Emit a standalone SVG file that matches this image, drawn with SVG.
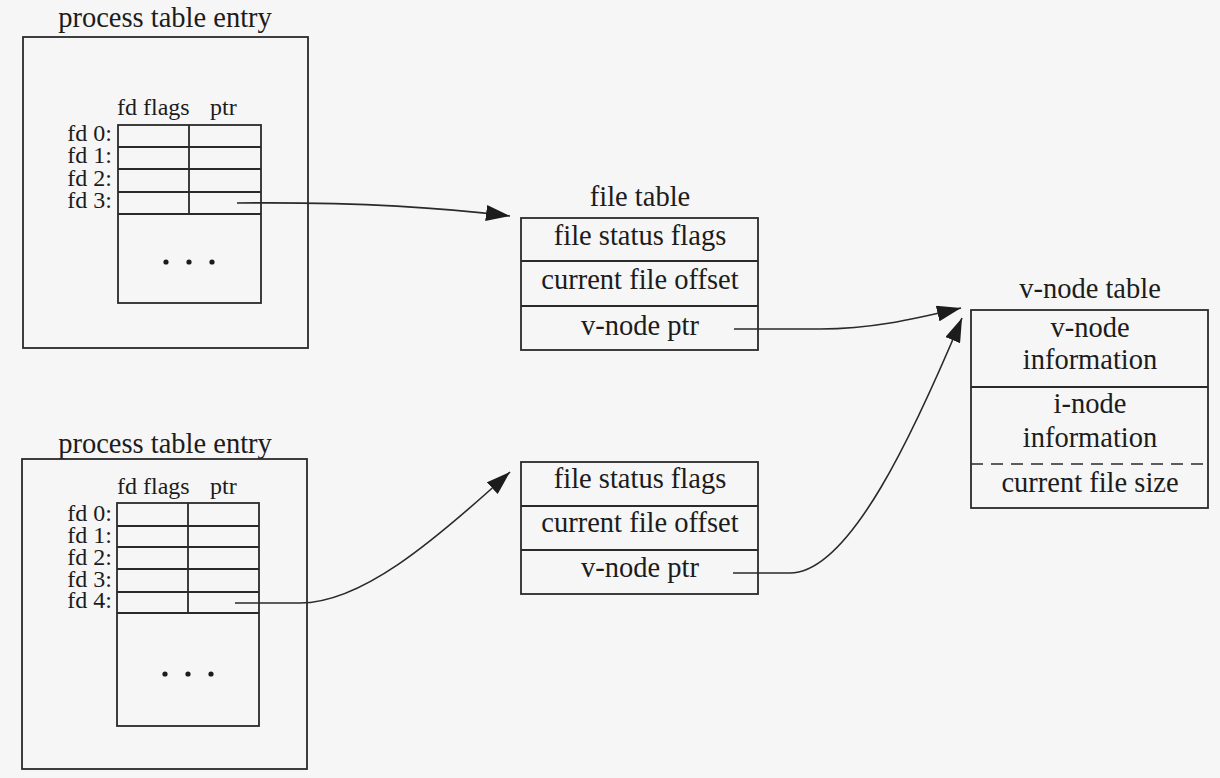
<svg xmlns="http://www.w3.org/2000/svg" width="1220" height="778" viewBox="0 0 1220 778">
<defs>
<style>
.bg{fill:#f6f6f6}
.box{fill:none;stroke:#2a2a2a;stroke-width:1.8}
.ln{stroke:#2a2a2a;stroke-width:1.8;fill:none}
.dash{stroke:#2a2a2a;stroke-width:1.6;stroke-dasharray:12 8;fill:none}
.t{font-family:"Liberation Serif","Times New Roman",serif;font-size:28.5px;fill:#1c1c1c}
.s{font-family:"Liberation Serif","Times New Roman",serif;font-size:24px;fill:#1c1c1c}
.m{text-anchor:middle}
.e{text-anchor:end}
.conn{fill:none;stroke:#2a2a2a;stroke-width:1.6}
.dot{fill:#1c1c1c}
</style>
<marker id="ah" markerUnits="userSpaceOnUse" markerWidth="25" markerHeight="16" refX="24" refY="8" orient="auto">
<path d="M0,0 L24,8 L0,16 Z" fill="#1c1c1c"/>
</marker>
</defs>
<rect class="bg" x="0" y="0" width="1220" height="778"/>

<g id="proc1">
<text class="t m" x="165" y="27">process table entry</text>
<rect class="box" x="23" y="37" width="285" height="311"/>
<text class="s" x="117" y="115">fd flags</text>
<text class="s" x="210" y="115">ptr</text>
<rect class="box" x="118" y="125" width="143" height="178"/>
<line class="ln" x1="189" y1="125" x2="189" y2="214"/>
<line class="ln" x1="118" y1="147" x2="261" y2="147"/>
<line class="ln" x1="118" y1="169" x2="261" y2="169"/>
<line class="ln" x1="118" y1="192" x2="261" y2="192"/>
<line class="ln" x1="118" y1="214" x2="261" y2="214"/>
<text class="s e"><tspan x="112" y="141">fd 0:</tspan><tspan x="112" y="163">fd 1:</tspan><tspan x="112" y="186">fd 2:</tspan><tspan x="112" y="208">fd 3:</tspan></text>
<circle class="dot" cx="166" cy="262" r="2.6"/>
<circle class="dot" cx="189" cy="262" r="2.6"/>
<circle class="dot" cx="212" cy="262" r="2.6"/>
</g>

<g id="proc2">
<text class="t m" x="165" y="453">process table entry</text>
<rect class="box" x="22" y="459" width="285" height="310"/>
<text class="s" x="117" y="494">fd flags</text>
<text class="s" x="210" y="494">ptr</text>
<rect class="box" x="117" y="503" width="142" height="223"/>
<line class="ln" x1="188" y1="503" x2="188" y2="613"/>
<line class="ln" x1="117" y1="526" x2="259" y2="526"/>
<line class="ln" x1="117" y1="547" x2="259" y2="547"/>
<line class="ln" x1="117" y1="569" x2="259" y2="569"/>
<line class="ln" x1="117" y1="592" x2="259" y2="592"/>
<line class="ln" x1="117" y1="613" x2="259" y2="613"/>
<text class="s e"><tspan x="112" y="521">fd 0:</tspan><tspan x="112" y="543">fd 1:</tspan><tspan x="112" y="565">fd 2:</tspan><tspan x="112" y="587">fd 3:</tspan><tspan x="112" y="608">fd 4:</tspan></text>
<circle class="dot" cx="165" cy="674" r="2.6"/>
<circle class="dot" cx="188" cy="674" r="2.6"/>
<circle class="dot" cx="211" cy="674" r="2.6"/>
</g>

<g id="filetable1">
<text class="t m" x="640" y="206">file table</text>
<rect class="box" x="521" y="218" width="237" height="132"/>
<line class="ln" x1="521" y1="261" x2="758" y2="261"/>
<line class="ln" x1="521" y1="306" x2="758" y2="306"/>
<text class="t m" x="640" y="245">file status flags</text>
<text class="t m" x="640" y="289">current file offset</text>
<text class="t m" x="640" y="335">v-node ptr</text>
</g>

<g id="filetable2">
<rect class="box" x="521" y="462" width="237" height="132"/>
<line class="ln" x1="521" y1="506" x2="758" y2="506"/>
<line class="ln" x1="521" y1="550" x2="758" y2="550"/>
<text class="t m" x="640" y="488">file status flags</text>
<text class="t m" x="640" y="532">current file offset</text>
<text class="t m" x="640" y="577">v-node ptr</text>
</g>

<g id="vnode">
<text class="t m" x="1090" y="298">v-node table</text>
<rect class="box" x="971" y="310" width="237" height="198"/>
<line class="ln" x1="971" y1="387" x2="1208" y2="387"/>
<line class="dash" x1="971" y1="464" x2="1208" y2="464"/>
<text class="t m"><tspan x="1090" y="337">v-node</tspan><tspan x="1090" y="369">information</tspan></text>
<text class="t m"><tspan x="1090" y="413">i-node</tspan><tspan x="1090" y="447">information</tspan></text>
<text class="t m" x="1090" y="492">current file size</text>
</g>

<g id="connectors">
<path class="conn" d="M237,203 C330,202 430,206 510,216" marker-end="url(#ah)"/>
<path class="conn" d="M235,603 L300,603 C360,603 430,545 510,472" marker-end="url(#ah)"/>
<path class="conn" d="M734,329 L820,329 C870,329 910,320 961,308" marker-end="url(#ah)"/>
<path class="conn" d="M733,573 L790,573 C850,573 915,430 962,318" marker-end="url(#ah)"/>
</g>
</svg>
